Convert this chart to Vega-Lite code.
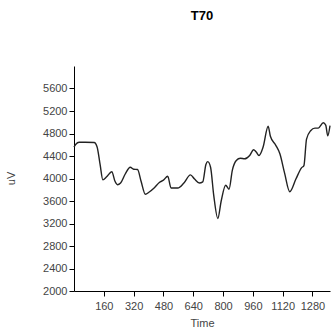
{
  "$schema": "https://vega.github.io/schema/vega-lite/v6.json",
  "autosize": {"type": "none"},
  "width": 256,
  "height": 225,
  "padding": {"left": 74, "top": 66, "right": 2, "bottom": 44},
  "title": {"text": "T70", "font": "Liberation Sans", "fontSize": 13, "fontWeight": "bold", "color": "#000", "offset": 43, "anchor": "middle"},
  "config": {"view": {"stroke": null}},
  "data": {"values": [
    {"t": 0, "v": 4560}, {"t": 10, "v": 4610}, {"t": 27, "v": 4645}, {"t": 60, "v": 4645},
    {"t": 108, "v": 4640}, {"t": 124, "v": 4560}, {"t": 140, "v": 4250}, {"t": 155, "v": 3975},
    {"t": 175, "v": 4030}, {"t": 203, "v": 4120}, {"t": 220, "v": 3950}, {"t": 233, "v": 3890},
    {"t": 250, "v": 3920}, {"t": 275, "v": 4080}, {"t": 302, "v": 4200}, {"t": 320, "v": 4165},
    {"t": 341, "v": 4160}, {"t": 360, "v": 3950}, {"t": 383, "v": 3720}, {"t": 404, "v": 3760},
    {"t": 430, "v": 3830}, {"t": 458, "v": 3930}, {"t": 480, "v": 3970}, {"t": 503, "v": 4040},
    {"t": 521, "v": 3830}, {"t": 557, "v": 3830}, {"t": 590, "v": 3920}, {"t": 625, "v": 4065},
    {"t": 647, "v": 3990}, {"t": 673, "v": 3920}, {"t": 691, "v": 3940}, {"t": 708, "v": 4250},
    {"t": 718, "v": 4300}, {"t": 733, "v": 4200}, {"t": 750, "v": 3700}, {"t": 772, "v": 3290},
    {"t": 790, "v": 3600}, {"t": 814, "v": 3880}, {"t": 832, "v": 3810}, {"t": 850, "v": 4150},
    {"t": 871, "v": 4320}, {"t": 893, "v": 4360}, {"t": 916, "v": 4350}, {"t": 943, "v": 4410},
    {"t": 964, "v": 4510}, {"t": 978, "v": 4470}, {"t": 993, "v": 4410}, {"t": 1015, "v": 4560},
    {"t": 1042, "v": 4930}, {"t": 1054, "v": 4750}, {"t": 1083, "v": 4590}, {"t": 1105, "v": 4440},
    {"t": 1130, "v": 4100}, {"t": 1158, "v": 3765}, {"t": 1191, "v": 3990}, {"t": 1221, "v": 4190},
    {"t": 1234, "v": 4230}, {"t": 1248, "v": 4700}, {"t": 1270, "v": 4850}, {"t": 1293, "v": 4895},
    {"t": 1311, "v": 4895}, {"t": 1338, "v": 4990}, {"t": 1351, "v": 4950}, {"t": 1362, "v": 4760},
    {"t": 1374, "v": 4940}
  ]},
  "mark": {"type": "line", "color": "#222", "strokeWidth": 1.4, "interpolate": "monotone"},
  "encoding": {
    "x": {
      "field": "t", "type": "quantitative",
      "scale": {"domain": [0, 1374], "nice": false, "zero": false},
      "axis": {
        "title": "Time", "values": [160, 320, 480, 640, 800, 960, 1120, 1280], "format": "d",
        "grid": false, "domainColor": "#000", "tickColor": "#000", "tickSize": 5,
        "labelFont": "Liberation Sans", "labelFontSize": 11, "labelColor": "#444", "labelPadding": 4,
        "titleFont": "Liberation Sans", "titleFontSize": 11, "titleFontWeight": "normal", "titleColor": "#444", "titlePadding": 6
      }
    },
    "y": {
      "field": "v", "type": "quantitative",
      "scale": {"domain": [2000, 6000], "nice": false, "zero": false},
      "axis": {
        "title": "uV", "values": [2000, 2400, 2800, 3200, 3600, 4000, 4400, 4800, 5200, 5600], "format": "d",
        "grid": false, "domainColor": "#000", "tickColor": "#000", "tickSize": 5,
        "labelFont": "Liberation Sans", "labelFontSize": 11, "labelColor": "#444", "labelPadding": 2,
        "titleFont": "Liberation Sans", "titleFontSize": 11, "titleFontWeight": "normal", "titleColor": "#444",
        "titleX": -58, "titleY": 112, "titleAngle": 270
      }
    }
  }
}
